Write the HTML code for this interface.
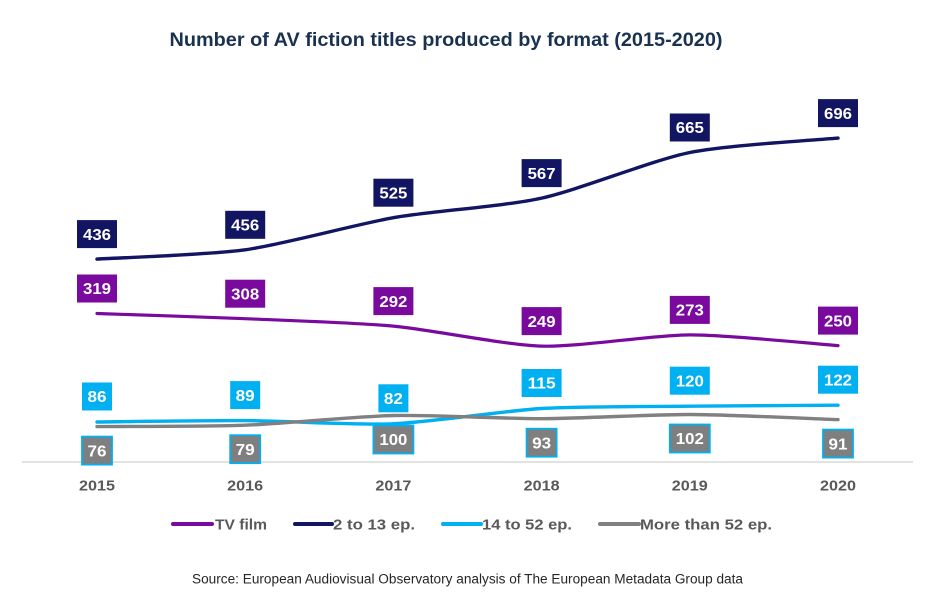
<!DOCTYPE html>
<html>
<head>
<meta charset="utf-8">
<style>
  html, body { margin: 0; padding: 0; background: #ffffff; }
  body { width: 935px; height: 598px; overflow: hidden; }
  svg { display: block; font-family: "Liberation Sans", "DejaVu Sans", sans-serif; }
  .lbl { font-size: 16px; font-weight: bold; fill: #ffffff; text-anchor: middle; }
  .yr { font-size: 15px; font-weight: bold; fill: #595959; text-anchor: middle; }
  .leg { font-size: 14.5px; font-weight: bold; fill: #595959; }
</style>
</head>
<body>
<svg width="935" height="598" viewBox="0 0 935 598" xmlns="http://www.w3.org/2000/svg">
  <rect x="0" y="0" width="935" height="598" fill="#ffffff"/>

  <!-- Title -->
  <text x="446" y="46" font-size="19" font-weight="bold" fill="#19324f" text-anchor="middle" textLength="553" lengthAdjust="spacingAndGlyphs">Number of AV fiction titles produced by format (2015-2020)</text>

  <!-- Axis line -->
  <line x1="22" y1="462" x2="913" y2="462" stroke="#d9d9d9" stroke-width="1.5"/>

  <!-- Series lines -->
  <path d="M97,313.5 C115.5,314.15 208.2,317.1 245.2,318.7 C282.3,320.3 356.4,322.7 393.4,326.1 C430.5,329.5 504.6,345.0 541.6,346.1 C578.7,347.2 652.8,335.0 689.8,334.9 C726.9,334.8 819.5,344.3 838,345.6" fill="none" stroke="#7a0a9e" stroke-width="3.2" stroke-linecap="round" stroke-linejoin="round"/>
  <path d="M97,259.1 C115.5,257.9 208.2,254.9 245.2,249.8 C282.3,244.6 356.4,224.2 393.4,217.7 C430.5,211.2 504.6,206.3 541.6,198.1 C578.7,190.0 652.8,160.0 689.8,152.5 C726.9,145.0 819.5,139.9 838,138.1" fill="none" stroke="#111562" stroke-width="3.4" stroke-linecap="round" stroke-linejoin="round"/>
  <path d="M97,422 C115.5,421.8 208.2,420.4 245.2,420.6 C282.3,420.8 356.4,425.3 393.4,423.8 C430.5,422.3 504.6,410.7 541.6,408.5 C578.7,406.3 652.8,406.6 689.8,406.2 C726.9,405.8 819.5,405.3 838,405.2" fill="none" stroke="#00b0f0" stroke-width="3.4" stroke-linecap="round" stroke-linejoin="round"/>
  <path d="M97,426.6 C115.5,426.4 208.2,426.6 245.2,425.2 C282.3,423.8 356.4,416.3 393.4,415.5 C430.5,414.7 504.6,418.8 541.6,418.7 C578.7,418.6 652.8,414.4 689.8,414.5 C726.9,414.6 819.5,419.0 838,419.6" fill="none" stroke="#808080" stroke-width="3.4" stroke-linecap="round" stroke-linejoin="round"/>

  <!-- Navy labels (2 to 13 ep.) -->
  <g fill="#111562">
    <rect x="77" y="220.1" width="40" height="28"/>
    <rect x="225.2" y="210.8" width="40" height="28"/>
    <rect x="373.4" y="178.7" width="40" height="28"/>
    <rect x="521.6" y="159.1" width="40" height="28"/>
    <rect x="669.8" y="113.5" width="40" height="28"/>
    <rect x="818" y="99.1" width="40" height="28"/>
  </g>
  <text class="lbl" x="97" y="239.8" textLength="28" lengthAdjust="spacingAndGlyphs">436</text>
  <text class="lbl" x="245.2" y="230.5" textLength="28" lengthAdjust="spacingAndGlyphs">456</text>
  <text class="lbl" x="393.4" y="198.4" textLength="28" lengthAdjust="spacingAndGlyphs">525</text>
  <text class="lbl" x="541.6" y="178.8" textLength="28" lengthAdjust="spacingAndGlyphs">567</text>
  <text class="lbl" x="689.8" y="133.2" textLength="28" lengthAdjust="spacingAndGlyphs">665</text>
  <text class="lbl" x="838" y="118.8" textLength="28" lengthAdjust="spacingAndGlyphs">696</text>

  <!-- Purple labels (TV film) -->
  <g fill="#7a0a9e">
    <rect x="77" y="274.5" width="40" height="28"/>
    <rect x="225.2" y="279.7" width="40" height="28"/>
    <rect x="373.4" y="287.1" width="40" height="28"/>
    <rect x="521.6" y="307.1" width="40" height="28"/>
    <rect x="669.8" y="295.9" width="40" height="28"/>
    <rect x="818" y="306.6" width="40" height="28"/>
  </g>
  <text class="lbl" x="97" y="294.2" textLength="28" lengthAdjust="spacingAndGlyphs">319</text>
  <text class="lbl" x="245.2" y="299.4" textLength="28" lengthAdjust="spacingAndGlyphs">308</text>
  <text class="lbl" x="393.4" y="306.8" textLength="28" lengthAdjust="spacingAndGlyphs">292</text>
  <text class="lbl" x="541.6" y="326.8" textLength="28" lengthAdjust="spacingAndGlyphs">249</text>
  <text class="lbl" x="689.8" y="315.6" textLength="28" lengthAdjust="spacingAndGlyphs">273</text>
  <text class="lbl" x="838" y="326.3" textLength="28" lengthAdjust="spacingAndGlyphs">250</text>

  <!-- Cyan labels (14 to 52 ep.) -->
  <g fill="#00b0f0">
    <rect x="82" y="382.5" width="30" height="28"/>
    <rect x="230.2" y="381.1" width="30" height="28"/>
    <rect x="378.4" y="384.3" width="30" height="28"/>
    <rect x="521.6" y="369" width="40" height="28"/>
    <rect x="669.8" y="366.7" width="40" height="28"/>
    <rect x="818" y="365.7" width="40" height="28"/>
  </g>
  <text class="lbl" x="97" y="402.2" textLength="19" lengthAdjust="spacingAndGlyphs">86</text>
  <text class="lbl" x="245.2" y="400.8" textLength="19" lengthAdjust="spacingAndGlyphs">89</text>
  <text class="lbl" x="393.4" y="404" textLength="19" lengthAdjust="spacingAndGlyphs">82</text>
  <text class="lbl" x="541.6" y="388.7" textLength="28" lengthAdjust="spacingAndGlyphs">115</text>
  <text class="lbl" x="689.8" y="386.4" textLength="28" lengthAdjust="spacingAndGlyphs">120</text>
  <text class="lbl" x="838" y="385.4" textLength="28" lengthAdjust="spacingAndGlyphs">122</text>

  <!-- Gray labels (More than 52 ep.) -->
  <g fill="#7f7f7f" stroke="#00b0f0" stroke-width="1.8">
    <rect x="82" y="436.6" width="30" height="28"/>
    <rect x="230.2" y="435.2" width="30" height="28"/>
    <rect x="373.4" y="425.5" width="40" height="28"/>
    <rect x="526.6" y="428.7" width="30" height="28"/>
    <rect x="669.8" y="424.5" width="40" height="28"/>
    <rect x="823" y="429.6" width="30" height="28"/>
  </g>
  <text class="lbl" x="97" y="456.3" textLength="19" lengthAdjust="spacingAndGlyphs">76</text>
  <text class="lbl" x="245.2" y="454.9" textLength="19" lengthAdjust="spacingAndGlyphs">79</text>
  <text class="lbl" x="393.4" y="445.2" textLength="28" lengthAdjust="spacingAndGlyphs">100</text>
  <text class="lbl" x="541.6" y="448.4" textLength="19" lengthAdjust="spacingAndGlyphs">93</text>
  <text class="lbl" x="689.8" y="444.2" textLength="28" lengthAdjust="spacingAndGlyphs">102</text>
  <text class="lbl" x="838" y="449.3" textLength="19" lengthAdjust="spacingAndGlyphs">91</text>

  <!-- Year labels -->
  <text class="yr" x="97" y="490.5" textLength="36" lengthAdjust="spacingAndGlyphs">2015</text>
  <text class="yr" x="245.2" y="490.5" textLength="36" lengthAdjust="spacingAndGlyphs">2016</text>
  <text class="yr" x="393.4" y="490.5" textLength="36" lengthAdjust="spacingAndGlyphs">2017</text>
  <text class="yr" x="541.6" y="490.5" textLength="36" lengthAdjust="spacingAndGlyphs">2018</text>
  <text class="yr" x="689.8" y="490.5" textLength="36" lengthAdjust="spacingAndGlyphs">2019</text>
  <text class="yr" x="838" y="490.5" textLength="36" lengthAdjust="spacingAndGlyphs">2020</text>

  <!-- Legend -->
  <line x1="173" y1="524" x2="212" y2="524" stroke="#7a0a9e" stroke-width="4" stroke-linecap="round"/>
  <text class="leg" x="215" y="529.5" textLength="52" lengthAdjust="spacingAndGlyphs">TV film</text>
  <line x1="295" y1="524" x2="332" y2="524" stroke="#111562" stroke-width="4" stroke-linecap="round"/>
  <text class="leg" x="333" y="529.5" textLength="82" lengthAdjust="spacingAndGlyphs">2 to 13 ep.</text>
  <line x1="443" y1="524" x2="481" y2="524" stroke="#00b0f0" stroke-width="4" stroke-linecap="round"/>
  <text class="leg" x="482" y="529.5" textLength="90" lengthAdjust="spacingAndGlyphs">14 to 52 ep.</text>
  <line x1="600" y1="524" x2="639" y2="524" stroke="#808080" stroke-width="4" stroke-linecap="round"/>
  <text class="leg" x="640" y="529.5" textLength="132" lengthAdjust="spacingAndGlyphs">More than 52 ep.</text>

  <!-- Source -->
  <text x="192" y="583.5" font-size="13.5" fill="#262626" textLength="551" lengthAdjust="spacingAndGlyphs">Source: European Audiovisual Observatory analysis of The European Metadata Group data</text>
</svg>
</body>
</html>
